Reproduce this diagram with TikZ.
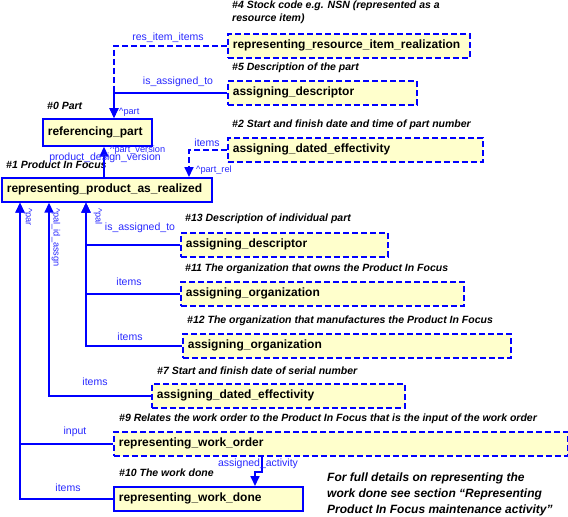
\documentclass[tikz,border=0pt]{standalone}
\usepackage{fontspec}
\setmainfont{Liberation Sans}
\usetikzlibrary{positioning, arrows.meta, calc}

\definecolor{lineblue}{RGB}{0,0,255}
\definecolor{lblblue}{RGB}{40,40,255}
\definecolor{boxfill}{RGB}{255,255,204}

\begin{document}
\begin{tikzpicture}[
            x=1pt, y=-1pt,
            box/.style={rectangle, draw=lineblue, fill=boxfill, line width=1.7pt,
                        minimum height=24pt, inner xsep=5pt, anchor=north west,
                        font=\fontsize{12}{14}\selectfont\bfseries, align=left},
            entity/.style={box},
            refent/.style={box, dash pattern=on 6pt off 3pt},
            note/.style={font=\fontsize{10.5}{12}\selectfont\bfseries\itshape, anchor=west, inner sep=0pt},
            lbl/.style={font=\fontsize{10.5}{12}\selectfont, text=lblblue, inner sep=0pt},
            role/.style={font=\fontsize{9.2}{11}\selectfont, text=lblblue, inner sep=0pt},
            arrow/.style={-{Triangle[length=10pt, width=9pt]}, draw=lineblue, line width=1.7pt},
            darrow/.style={arrow, dash pattern=on 6pt off 3pt},
        ]
            \useasboundingbox (0,0) rectangle (568,517);

            % Part and product in focus
            \node[entity, text width=99pt, minimum height=27pt] (refpart) at (42,118) {referencing\_part};
            \node[entity, text width=200pt] (prodreal) at (1,177) {representing\_product\_as\_realized};
            \node[note] (n0) at (47,106) {\#0 Part};
            \node[note] (n1) at (6,165) {\#1 Product In Focus};

            % Upper references
            \node[refent, text width=232pt] (resitem) at (227,33) {representing\_resource\_item\_realization};
            \node[refent, text width=179pt] (desc5) at (227,80) {assigning\_descriptor};
            \node[refent, text width=245pt] (dated2) at (227,137) {assigning\_dated\_effectivity};
            \node[note, font=\fontsize{10.5}{13}\selectfont\bfseries\itshape, align=left, anchor=north west] (n4) at (232,1) {\#4 Stock code e.g. NSN (represented as a\\resource item)};
            \node[note] (n5) at (232,68) {\#5 Description of the part};
            \node[note] (n2) at (232,125) {\#2 Start and finish date and time of part number};

            % Lower references
            \node[refent, text width=197pt] (desc13) at (180,232) {assigning\_descriptor};
            \node[refent, text width=273pt] (org11) at (180,281) {assigning\_organization};
            \node[refent, text width=318pt] (org12) at (182,333) {assigning\_organization};
            \node[refent, text width=243pt] (dated7) at (151,383) {assigning\_dated\_effectivity};
            \node[refent, text width=444pt] (workorder) at (113,431) {representing\_work\_order};
            \node[entity, text width=179pt] (workdone) at (113,486) {representing\_work\_done};
            \node[note] (n13) at (185,219) {\#13 Description of individual part};
            \node[note] (n11) at (185,269) {\#11 The organization that owns the Product In Focus};
            \node[note] (n12) at (187,321) {\#12 The organization that manufactures the Product In Focus};
            \node[note] (n7) at (157,371) {\#7 Start and finish date of serial number};
            \node[note] (n9) at (119,419) {\#9 Relates the work order to the Product In Focus that is the input of the work order};
            \node[note] (n10) at (119,473) {\#10 The work done};
            \node[note, font=\fontsize{12}{16}\selectfont\bfseries\itshape, align=left, anchor=north west] (full) at (327,473)
                {For full details on representing the\\work done see section ``Representing\\Product In Focus maintenance activity''};

            % Attachment points
            \coordinate (partin) at ($(refpart.north west)+(72,0)$);
            \coordinate (verin) at ($(refpart.south west)+(62,0)$);
            \coordinate (verout) at ($(prodreal.north west)+(103,0)$);
            \coordinate (relin) at ($(prodreal.north west)+(188,0)$);
            \coordinate (par) at ($(prodreal.south west)+(19,0)$);
            \coordinate (palid) at ($(prodreal.south west)+(48,0)$);
            \coordinate (pal) at ($(prodreal.south west)+(85,0)$);

            % Connectors to the part
            \draw[darrow] (resitem.west) -| (partin);
            \draw[arrow] (desc5.west) -| (partin);
            \draw[arrow] (verout) -- (verin);
            \draw[darrow] (dated2.west) -| (relin);
            \node[lbl] (l1) at (168,38) {res\_item\_items};
            \node[lbl] (l2) at (178,82) {is\_assigned\_to};
            \node[role, anchor=west] (r1) at (119,112) {\^{}part};
            \node[lbl] (l3) at (105,158) {product\_design\_version};
            \node[role, anchor=west] (r2) at (110,150) {\^{}part\_version};
            \node[lbl] (l4) at (207,143) {items};
            \node[role, anchor=west] (r3) at (196,170) {\^{}part\_rel};

            % Connectors to the product in focus
            \draw[arrow] (desc13.west) -| (pal);
            \draw[arrow] (org11.west) -| (pal);
            \draw[arrow] (org12.west) -| (pal);
            \draw[arrow] (dated7.west) -| (palid);
            \draw[arrow] (workorder.west) -| (par);
            \draw[arrow] (workdone.west) -| (par);
            \draw[arrow] ($(workorder.south west)+(149,0)$) -- ++(0,15) -| ($(workdone.north west)+(142,0)$);
            \node[lbl] (l5) at (140,228) {is\_assigned\_to};
            \node[lbl] (l6) at (129,282) {items};
            \node[lbl] (l7) at (130,337) {items};
            \node[lbl] (l8) at (95,382) {items};
            \node[lbl] (l9) at (75,432) {input};
            \node[lbl] (l10) at (68,488) {items};
            \node[lbl] (l11) at (258,464) {assigned\_activity};
            \node[role, rotate=-90, anchor=west] (r4) at (28,208) {\^{}par};
            \node[role, rotate=-90, anchor=west] (r5) at (56,208) {\^{}pal\_id\_assgn};
            \node[role, rotate=-90, anchor=west] (r6) at (98,208) {\^{}pal};
        \end{tikzpicture}
\end{document}
